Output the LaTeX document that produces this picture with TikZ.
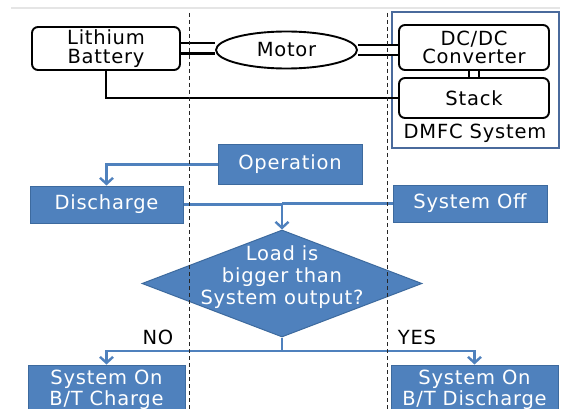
\documentclass[tikz,border=0pt]{standalone}
\usepackage{fontspec}
\setmainfont{DejaVu Sans}[LetterSpace=4]
\usetikzlibrary{arrows.meta,shapes.geometric}
\definecolor{bl}{HTML}{4F81BD}
\definecolor{bldark}{HTML}{3D6A9E}
\definecolor{frame}{HTML}{4A6A9C}
\begin{document}
\begin{tikzpicture}[x=1pt,y=-1pt,
  txt/.style={font=\fontsize{19.5}{18.5}\selectfont, align=center, inner sep=0pt},
  wbox/.style={txt, draw=black, line width=1.9pt, rounded corners=6pt, fill=white},
  bbox/.style={txt, draw=bldark, line width=1pt, fill=bl, text=white},
  blk/.style={draw=black, line width=2.3pt},
  dbl/.style={draw=black, line width=2.3pt, double=white, double distance=8pt},
  arr/.style={draw=bl, line width=2.4pt, -{Straight Barb[length=6pt,width=13pt]}},
  bline/.style={draw=bl, line width=2.4pt},
  sep/.style={draw=black!85, line width=1pt, dash pattern=on 4pt off 3pt}]
\useasboundingbox (0,0) rectangle (570,409);
\clip (0,0) rectangle (570,409);
\fill[white] (0,0) rectangle (570,409);
\draw[black!10, line width=2pt] (11,8) -- (560,8);

% top: hardware
\node[draw=frame, line width=1.3pt, minimum width=167pt, minimum height=136pt, inner sep=0pt] (dmfc) at (475.5,80) {};
\node[wbox, minimum width=148pt, minimum height=43pt] (bat) at (106,48.5) {Lithium\\Battery};
\node[txt, draw=black, line width=1.9pt, fill=white, ellipse, minimum width=141pt, minimum height=37pt] (mot) at (286.5,50) {Motor};
\node[wbox, minimum width=150pt, minimum height=45pt] (conv) at (474,47.5) {DC/DC\\Converter};
\node[wbox, minimum width=150pt, minimum height=40pt] (stack) at (474,98) {Stack};
\node[txt] (dmfclab) at (475,133) {DMFC System};

\draw[dbl] (bat.east) -- (bat.east -| mot.west);
\draw[dbl] (mot.east) -- (mot.east -| conv.west);
\draw[dbl] (conv.south) -- (stack.north);
\draw[blk] (bat.south) |- (stack.west);

% flow chart
\node[bbox, minimum width=144pt, minimum height=39pt] (op) at (290,164.5) {Operation};
\node[bbox, minimum width=153pt, minimum height=37pt] (dis) at (106.5,204.5) {Discharge};
\node[bbox, minimum width=154pt, minimum height=37pt] (off) at (470,203.5) {System Off};
\node[diamond, draw=bldark, line width=1pt, fill=bl, minimum width=280pt, minimum height=107pt, inner sep=0pt] (dia) at (282,283.5) {};
\node[txt, text=white, font=\fontsize{19.5}{22}\selectfont] (diatxt) at (282,277) {Load is\\bigger than\\System output?};
\node[bbox, minimum width=157pt, minimum height=50pt, font=\fontsize{19.5}{21}\selectfont] (chg) at (106.5,390) {System On\\B/T Charge};
\node[bbox, minimum width=167pt, minimum height=50pt, font=\fontsize{19.5}{21}\selectfont] (dchg) at (474.5,390) {System On\\B/T Discharge};

\coordinate (join) at (282,204.5);
\coordinate (split) at (282,351);
\draw[arr] (op.west) -| (dis.north);
\draw[bline] (dis.east) -- (join);
\draw[bline] (off.west) -- (off.west -| join);
\draw[arr] (join) -- (dia.north);
\draw[bline] (dia.south) -- (split);
\draw[arr] (split) -| (chg.north);
\draw[arr] (split) -| (dchg.north);
\node[txt] (no) at (158,337) {NO};
\node[txt] (yes) at (417,337) {YES};

% separators
\coordinate (s1t) at (189,13); \coordinate (s1b) at (189,409);
\coordinate (s2t) at (387,13); \coordinate (s2b) at (387,409);
\draw[sep] (s1t) -- (s1b);
\draw[sep] (s2t) -- (s2b);
\end{tikzpicture}
\end{document}
